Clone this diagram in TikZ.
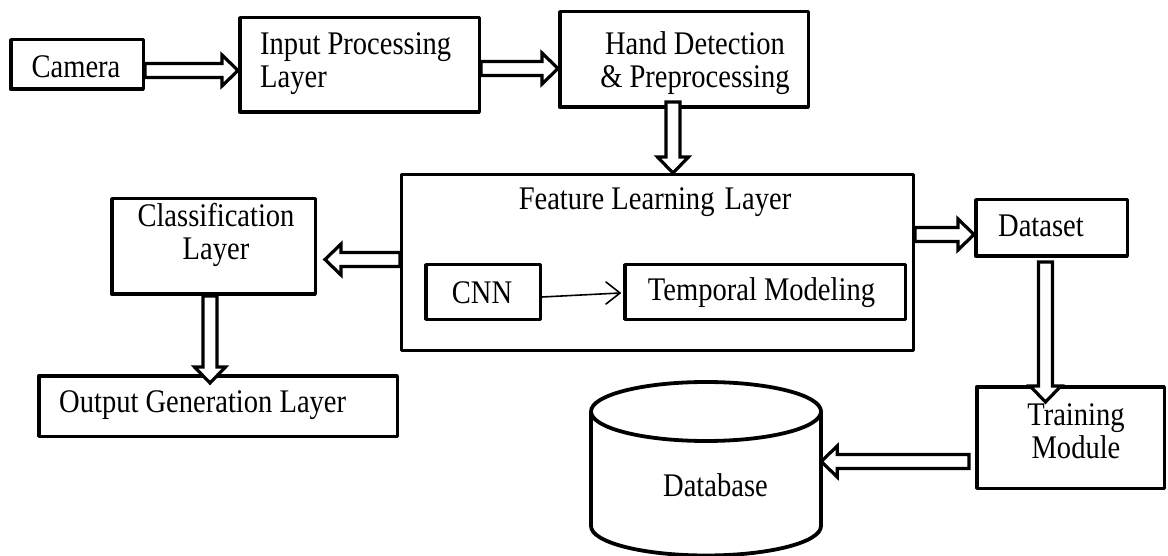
\documentclass[tikz,border=0pt]{standalone}
\usepackage{fontspec}
\setmainfont{Liberation Serif}[FakeStretch=0.865]
\usetikzlibrary{calc,arrows.meta}
\tikzset{
  box/.style={draw, line width=3.5pt, line join=round, rectangle, inner sep=0pt},
  thinbox/.style={box, line width=3pt},
  lbl/.style={font=\fontsize{33}{33}\selectfont, inner sep=0pt},
  blkarrow/.style={draw, fill=white, line width=3.2pt, line join=miter},
  cyl/.style={draw, line width=3.8pt, line join=round},
  thinline/.style={line width=1.6pt, line cap=round, line join=round},
}
\newcommand\blockarrow[2]{%
  \path ($(#2)!16pt!(#1)$) coordinate (hb);
  \draw[blkarrow] ($(#1)!7pt!90:(#2)$) -- ($(hb)!7pt!90:(#2)$) -- ($(hb)!15.5pt!90:(#2)$)
    -- (#2) -- ($(hb)!15.5pt!-90:(#2)$) -- ($(hb)!7pt!-90:(#2)$) -- ($(#1)!7pt!-90:(#2)$) -- cycle;
}
\begin{document}
\begin{tikzpicture}[x=1pt,y=-1pt]
\useasboundingbox (0,0) rectangle (1168,556);
% boxes
\node[box, minimum width=132.5, minimum height=49.5] (cam) at (77,64.5) {};
\node[box, minimum width=239.5, minimum height=94.5] (inp) at (359.5,65) {};
\node[box, minimum width=248.5, minimum height=95.5] (hand) at (684,59.5) {};
\node[thinbox, minimum width=512, minimum height=176] (feat) at (657.5,262.5) {};
\node[box, minimum width=114.5, minimum height=54.5] (cnn) at (483,292) {};
\node[box, minimum width=280.5, minimum height=54.5] (temp) at (765,292) {};
\node[box, minimum width=203.5, minimum height=95.5] (cls) at (213.5,246.5) {};
\node[box, minimum width=358.5, minimum height=60.5] (out) at (218,406) {};
\node[box, minimum width=151.5, minimum height=56.5] (ds) at (1051.5,228) {};
\node[box, minimum width=187.5, minimum height=101.5] (train) at (1070.5,437.5) {};
% database cylinder
\node[inner sep=0pt, minimum width=230, minimum height=173] (db) at (706,468) {};
\draw[cyl] (591,411.5) -- (591,526) arc[start angle=180, end angle=0, x radius=115, y radius=29.5] -- (821,411.5);
\draw[cyl] (706,411.5) ellipse [x radius=115, y radius=29.5];
% connector end points
\coordinate (a1s) at ([yshift=-6pt]cam.east);
\coordinate (a1e) at (a1s -| inp.west);
\coordinate (a2s) at ([yshift=-3.5pt]inp.east);
\coordinate (a2e) at (a2s -| hand.west);
\coordinate (a3s) at ([xshift=-11pt,yshift=7pt]hand.south);
\coordinate (a3e) at (a3s |- feat.north);
\coordinate (a4s) at ([yshift=3pt]feat.west);
\coordinate (a4e) at ([xshift=8pt]cls.east |- a4s);
\coordinate (a5s) at ([xshift=-3.5pt]cls.south);
\coordinate (a5e) at ([yshift=-9pt]a5s |- out.north);
\coordinate (a6s) at ([yshift=28pt]feat.east);
\coordinate (a6e) at (a6s -| ds.west);
\coordinate (a7s) at ([xshift=-6pt,yshift=-4pt]ds.south);
\coordinate (a7e) at ([yshift=-17pt]a7s |- train.north);
\coordinate (a8s) at ([xshift=-6pt,yshift=-24pt]train.west);
\coordinate (a8e) at (a8s -| db.east);
\coordinate (c1s) at ([yshift=-5pt]cnn.east);
\coordinate (c1e) at ([xshift=-3pt,yshift=-1pt]temp.west);
% connectors
\blockarrow{a1s}{a1e}
\blockarrow{a2s}{a2e}
\blockarrow{a3s}{a3e}
\blockarrow{a4s}{a4e}
\blockarrow{a5s}{a5e}
\blockarrow{a6s}{a6e}
\blockarrow{a7s}{a7e}
\blockarrow{a8s}{a8e}
\draw[thinline] (c1s) -- (c1e);
\draw[thinline] ([xshift=-14pt,yshift=11pt]c1e) -- (c1e) -- ([xshift=-14pt,yshift=-11pt]c1e);
% texts
\node[lbl, anchor=base] (t-cam) at (76,78) {Camera};
\node[lbl, anchor=base west, align=left] (t-inp) at (260,88) {Input Processing\\Layer};
\node[lbl, anchor=base, align=center] (t-hand) at (695,88) {Hand Detection\\\& Preprocessing};
\node[lbl, anchor=base] (t-feat) at (655,210) {Feature Learning\kern3pt{} Layer};
\node[lbl, anchor=base] (t-cnn) at (482,303) {CNN};
\node[lbl, anchor=base] (t-temp) at (761.5,301) {Temporal Modeling};
\node[lbl, anchor=base, align=center] (t-cls) at (216,260) {Classification\\Layer};
\node[lbl, anchor=base west] (t-out) at (59,412) {Output Generation Layer};
\node[lbl, anchor=base west] (t-ds) at (998,237) {Dataset};
\node[lbl, anchor=base, align=center] (t-train) at (1076,458) {Training\\Module};
\node[lbl, anchor=base] (t-db) at (715.5,496) {Database};
\end{tikzpicture}
\end{document}
